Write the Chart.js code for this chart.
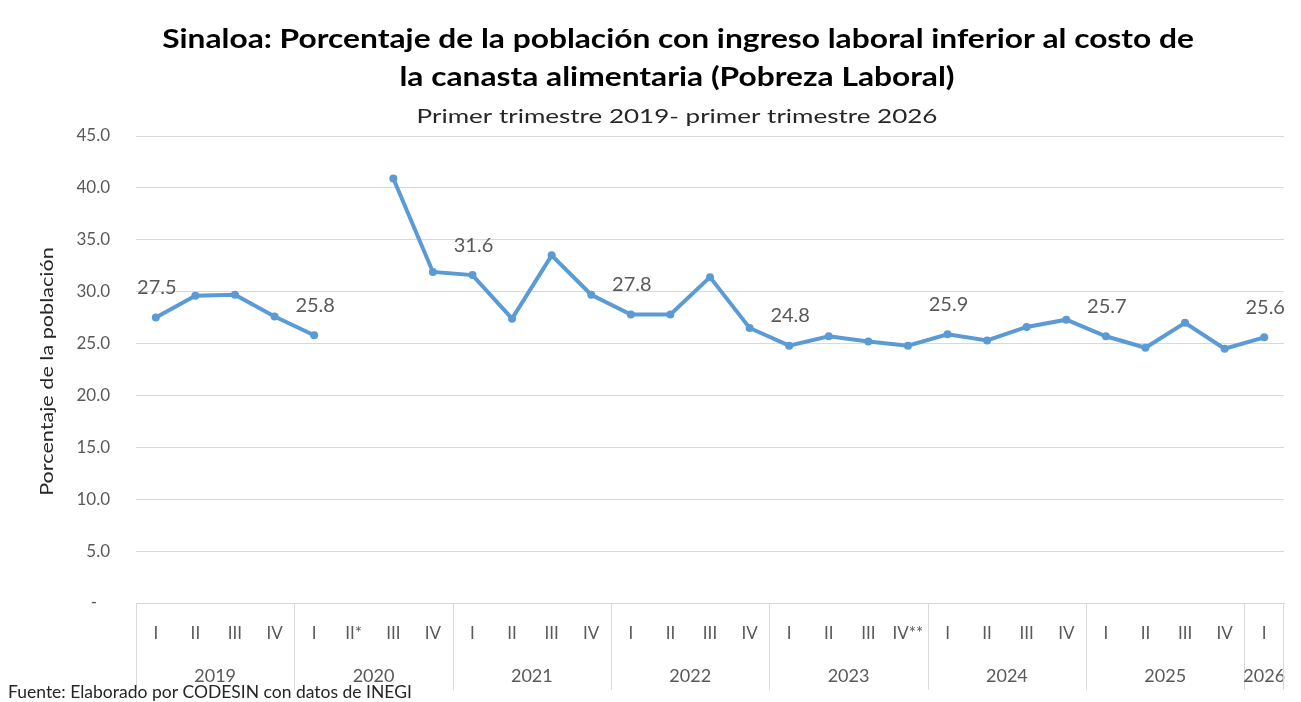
<!DOCTYPE html>
<html lang="es">
<head>
    <meta charset="UTF-8">
    <title>Pobreza Laboral Sinaloa</title>
    <script src="https://cdn.jsdelivr.net/npm/chart.js"></script>
    <style>
        body { margin: 0; background: #fff; }
        canvas { display: block; }
    </style>
</head>
<body>
    <canvas id="grafica" width="1301" height="702"></canvas>
    <script>
        // trimestres (eje x, primer nivel)
        const trimestres = ['I', 'II', 'III', 'IV', 'I', 'II*', 'III', 'IV', 'I', 'II', 'III', 'IV',
            'I', 'II', 'III', 'IV', 'I', 'II', 'III', 'IV**', 'I', 'II', 'III', 'IV',
            'I', 'II', 'III', 'IV', 'I'];
        // años (eje x, segundo nivel) y cuantos trimestres abarca cada uno
        const anios = ['2019', '2020', '2021', '2022', '2023', '2024', '2025', '2026'];
        const trimestresPorAnio = [4, 4, 4, 4, 4, 4, 4, 1];
        // porcentaje de la poblacion (null = sin dato, 2020 II)
        const pobrezaLaboral = [27.5, 29.6, 29.7, 27.6, 25.8, null, 40.9, 31.9,
            31.6, 27.4, 33.5, 29.7, 27.8, 27.8, 31.4, 26.5,
            24.8, 25.7, 25.2, 24.8, 25.9, 25.3, 26.6, 27.3,
            25.7, 24.6, 27.0, 24.5, 25.6];
        // indices con etiqueta de dato (primer trimestre de cada año)
        const conEtiqueta = [0, 4, 8, 12, 16, 20, 24, 28];

        const titulo = ['Sinaloa: Porcentaje de la población con ingreso laboral inferior al costo de',
            'la canasta alimentaria (Pobreza Laboral)'];
        const subtitulo = 'Primer trimestre 2019- primer trimestre 2026';
        const tituloEjeY = 'Porcentaje de la población';
        const fuente = 'Fuente: Elaborado por CODESIN con datos de INEGI';

        const FUENTE = 'Lato, "Noto Sans", sans-serif';

        // texto centrado, un poco ensanchado (la original usa Calibri, mas ancha)
        function textoAncho(ctx, texto, x, y, sx) {
            ctx.save();
            ctx.translate(x, y);
            ctx.scale(sx, 1);
            ctx.fillText(texto, 0, 0);
            ctx.restore();
        }

        const textos = {
            id: 'textos',
            afterDraw(chart) {
                const ctx = chart.ctx;
                const a = chart.chartArea;
                ctx.save();
                ctx.textAlign = 'center';
                ctx.textBaseline = 'alphabetic';

                ctx.fillStyle = '#000';
                ctx.font = 'bold 26px ' + FUENTE;
                textoAncho(ctx, titulo[0], 678, 48, 1.22);
                textoAncho(ctx, titulo[1], 677, 86, 1.22);

                ctx.fillStyle = '#262626';
                ctx.font = '20px ' + FUENTE;
                textoAncho(ctx, subtitulo, 677, 123, 1.3);

                // titulo del eje y, girado
                ctx.save();
                ctx.translate(53, (a.top + a.bottom) / 2);
                ctx.rotate(-Math.PI / 2);
                ctx.font = '18px ' + FUENTE;
                textoAncho(ctx, tituloEjeY, -2, 0, 1.2);
                ctx.restore();

                ctx.textAlign = 'left';
                ctx.font = '17.5px ' + FUENTE;
                ctx.fillText(fuente, 8, 698);
                ctx.restore();
            }
        };

        const ejeAnios = {
            id: 'ejeAnios',
            afterDraw(chart) {
                const ctx = chart.ctx;
                const x = chart.scales.x;
                const ancho = x.width / trimestres.length;
                const arriba = x.top;
                ctx.save();
                ctx.strokeStyle = '#D9D9D9';
                ctx.lineWidth = 1;
                ctx.fillStyle = '#595959';
                ctx.font = '18px ' + FUENTE;
                ctx.textAlign = 'center';
                ctx.textBaseline = 'middle';
                let inicio = 0;
                anios.forEach((anio, i) => {
                    const izq = x.getPixelForValue(inicio) - ancho / 2;
                    const der = x.getPixelForValue(inicio + trimestresPorAnio[i] - 1) + ancho / 2;
                    ctx.beginPath();
                    ctx.moveTo(Math.round(izq) + 0.5, arriba);
                    ctx.lineTo(Math.round(izq) + 0.5, arriba + 87);
                    ctx.stroke();
                    ctx.fillText(anio, (izq + der) / 2, arriba + 73);
                    inicio += trimestresPorAnio[i];
                });
                ctx.beginPath();
                ctx.moveTo(Math.round(x.right) - 0.5, arriba);
                ctx.lineTo(Math.round(x.right) - 0.5, arriba + 87);
                ctx.stroke();
                ctx.restore();
            }
        };

        const etiquetasDatos = {
            id: 'etiquetasDatos',
            afterDatasetsDraw(chart) {
                const ctx = chart.ctx;
                const meta = chart.getDatasetMeta(0);
                ctx.save();
                ctx.fillStyle = '#595959';
                ctx.font = '20px ' + FUENTE;
                ctx.textAlign = 'center';
                ctx.textBaseline = 'middle';
                conEtiqueta.forEach(i => {
                    const p = meta.data[i];
                    ctx.fillText(pobrezaLaboral[i].toFixed(1), p.x + 1, p.y - 30);
                });
                ctx.restore();
            }
        };

        new Chart(document.getElementById('grafica'), {
            type: 'line',
            data: {
                labels: trimestres,
                datasets: [{
                    data: pobrezaLaboral,
                    borderColor: '#5B9BD5',
                    backgroundColor: '#5B9BD5',
                    borderWidth: 4,
                    pointRadius: 4,
                    pointBackgroundColor: '#5B9BD5',
                    pointBorderWidth: 0,
                    tension: 0,
                    spanGaps: false
                }]
            },
            options: {
                responsive: false,
                animation: false,
                layout: { padding: { left: 0, right: 17, bottom: 9, top: 136 } },
                plugins: {
                    legend: { display: false },
                    tooltip: { enabled: false },
                    title: { display: false }
                },
                scales: {
                    x: {
                        offset: true,
                        grid: { display: false, drawTicks: false },
                        border: { display: true, color: '#D9D9D9' },
                        ticks: {
                            color: '#595959',
                            font: { family: FUENTE, size: 17 },
                            padding: 20,
                            autoSkip: false,
                            maxRotation: 0
                        },
                        afterFit(scale) { scale.height = 90; }
                    },
                    y: {
                        min: 0,
                        max: 45,
                        grid: { color: '#D9D9D9', drawTicks: false },
                        border: { display: false },
                        ticks: {
                            stepSize: 5,
                            padding: 26,
                            color: '#595959',
                            font: { family: FUENTE, size: 17 },
                            callback: v => v === 0 ? '-   ' : v.toFixed(1)
                        },
                        afterFit(scale) { scale.width = 136; }
                    }
                }
            },
            plugins: [ejeAnios, etiquetasDatos, textos]
        });
    </script>
</body>
</html>
